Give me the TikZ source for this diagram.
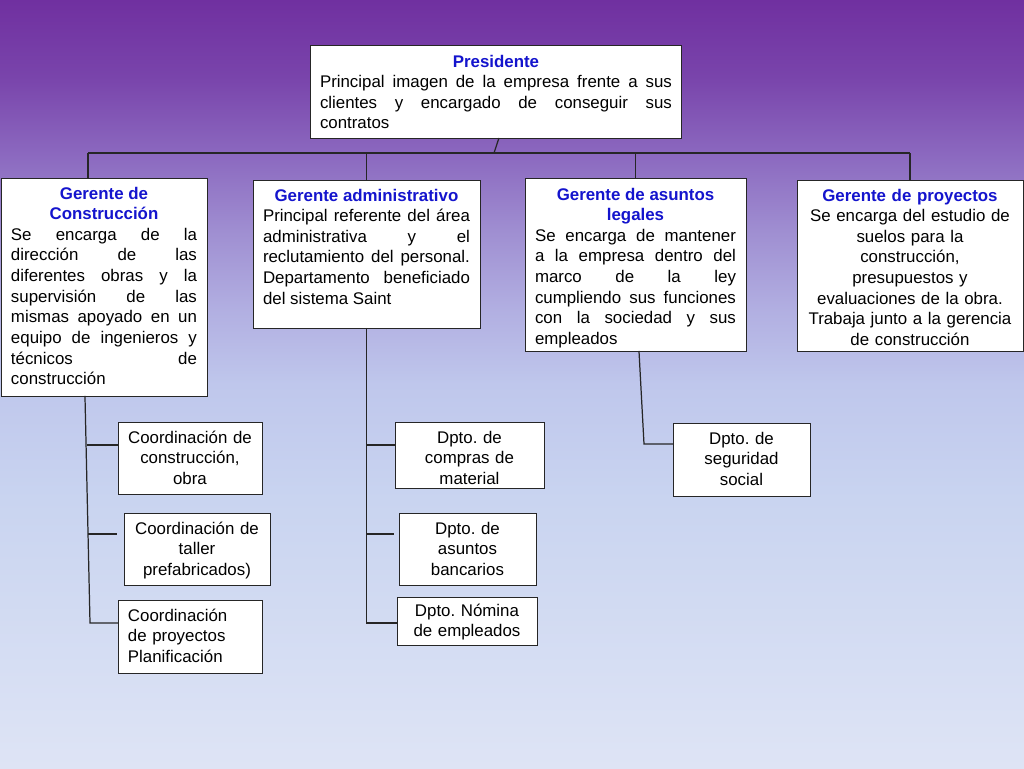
\documentclass[tikz,border=0pt]{standalone}
\usepackage{fontspec}
\setmainfont{Liberation Sans}
\frenchspacing

\definecolor{azultit}{RGB}{20,20,205}
\definecolor{fondo0}{RGB}{112,48,160}
\definecolor{fondo1}{RGB}{121,68,171}
\definecolor{fondo2}{RGB}{139,104,191}
\definecolor{fondo3}{RGB}{159,142,209}
\definecolor{fondo4}{RGB}{177,174,225}
\definecolor{fondo5}{RGB}{191,199,236}
\definecolor{fondo6}{RGB}{201,212,240}
\definecolor{fondo7}{RGB}{222,228,245}
\pgfdeclareverticalshading{diapo}{100bp}{color(0bp)=(fondo7); color(25bp)=(fondo7);
  color(42.5bp)=(fondo6); color(50bp)=(fondo5); color(55bp)=(fondo4);
  color(60bp)=(fondo3); color(65bp)=(fondo2); color(70bp)=(fondo1);
  color(75bp)=(fondo0); color(100bp)=(fondo0)}

\newcommand\titulo[1]{{\centering\textcolor{azultit}{\bfseries #1}\par}}

\begin{document}
\begin{tikzpicture}[x=0.02cm, y=-0.02cm,
    every node/.style = {draw=black!85, line width=0.5pt, fill=white, anchor=north west,
                         inner ysep=0pt, outer sep=0pt, text=black,
                         font=\fontsize{9.6}{11.75}\selectfont},
          jefe/.style = {align=justify, inner xsep=0.2cm},
         depto/.style = {align=center, inner xsep=0.12cm},
      conector/.style = {draw=black!85, line width=0.7pt}]%
  \useasboundingbox (0,0) rectangle (1024,768);
  \shade [shading=diapo] (0,0) rectangle (1024,768);
  % presidente
  \node [jefe, text width=7.04cm, text height=0.44cm, text depth=1.42cm]
        (pres) at (310,45) {\titulo{Presidente}Principal imagen de la empresa frente a sus\linebreak
        clientes y encargado de conseguir sus\linebreak contratos};
  % gerentes
  \node [jefe, text width=3.72cm, text height=0.42cm, text depth=3.94cm]
        (gcon) at (1,178) {\titulo{Gerente de\\Construcción}Se encarga de la\linebreak
        dirección de las\linebreak diferentes obras y la\linebreak supervisión de las\linebreak
        mismas apoyado en un\linebreak equipo de ingenieros y\linebreak técnicos de\linebreak construcción};
  \node [jefe, text width=4.14cm, text height=0.42cm, text depth=2.54cm]
        (gadm) at (253,180) {\titulo{Gerente administrativo}Principal referente del área\linebreak
        administrativa y el\linebreak reclutamiento del personal.\linebreak
        Departamento beneficiado\linebreak del sistema Saint};
  \node [jefe, text width=4.02cm, text height=0.44cm, text depth=3.02cm]
        (gleg) at (525,178) {\titulo{Gerente de asuntos\\legales}Se encarga de mantener\linebreak
        a la empresa dentro del\linebreak marco de la ley\linebreak cumpliendo sus funciones\linebreak
        con la sociedad y sus\linebreak empleados};
  \node [jefe, align=center, text width=4.12cm, text height=0.42cm, text depth=3.00cm]
        (gpro) at (797,180) {\textcolor{azultit}{\bfseries Gerente de proyectos}\\
        Se encarga del estudio de\\ suelos para la\\ construcción,\\ presupuestos y\\
        evaluaciones de la obra.\\ Trabaja junto a la gerencia\\ de construcción};
  % coordinaciones
  \node [depto, text width=2.64cm, text height=0.42cm, text depth=1.02cm]
        (coord1) at (118,422) {Coordinación de\\ construcción,\\ obra};
  \node [depto, text width=2.68cm, text height=0.42cm, text depth=1.02cm]
        (coord2) at (124,513) {Coordinación de\\ taller\\ prefabricados)};
  \node [depto, align=left, inner xsep=0.2cm, text width=2.48cm, text height=0.42cm, text depth=1.04cm]
        (coord3) at (118,600) {Coordinación\\ de proyectos\\ Planificación};
  % departamentos
  \node [depto, text width=2.74cm, text height=0.42cm, text depth=0.90cm]
        (dcom) at (395,422) {Dpto. de\\ compras de\\ material};
  \node [depto, text width=2.50cm, text height=0.42cm, text depth=1.02cm]
        (dban) at (399,513) {Dpto. de\\ asuntos\\ bancarios};
  \node [depto, text width=2.56cm, text height=0.38cm, text depth=0.58cm]
        (dnom) at (397,597) {Dpto. Nómina\\ de empleados};
  \node [depto, text width=2.50cm, text height=0.42cm, text depth=1.04cm]
        (dseg) at (673,423) {Dpto. de\\ seguridad\\ social};
  % lineas
  \coordinate (busl) at (88,153);
  \coordinate (busr) at (910,153);
  \coordinate (busp) at (494,153);
  \draw [conector] ([xshift=0.06cm]pres.south) -- (busp);
  \draw [conector] (busl) -- (busr);
  \draw [conector] (busl) -- (busl |- gcon.north);
  \draw [conector] (gadm.north) -- (gadm.north |- busl);
  \draw [conector] (gleg.north) -- (gleg.north |- busl);
  \draw [conector] (busr) -- (busr |- gpro.north);
  % construccion
  \coordinate (cfin) at (90,623);
  \coordinate (cr1) at (87,445);
  \coordinate (cr2) at (88,534);
  \draw [conector] ([xshift=-0.38cm]gcon.south) -- (cfin) -- (cfin -| coord3.west);
  \draw [conector] (cr1) -- (cr1 -| coord1.west);
  \draw [conector] (cr2) -- ([xshift=-0.14cm]cr2 -| coord2.west);
  % administracion
  \coordinate (afin) at (gadm.south |- cfin);
  \coordinate (ar1) at (gadm.south |- cr1);
  \coordinate (ar2) at (gadm.south |- cr2);
  \draw [conector] (gadm.south) -- (afin) -- (afin -| dnom.west);
  \draw [conector] (ar1) -- (ar1 -| dcom.west);
  \draw [conector] (ar2) -- ([xshift=-0.1cm]ar2 -| dban.west);
  % legales
  \coordinate (lfin) at (644,444);
  \draw [conector] ([xshift=0.07cm]gleg.south) -- (lfin) -- (lfin -| dseg.west);
\end{tikzpicture}
\end{document}
